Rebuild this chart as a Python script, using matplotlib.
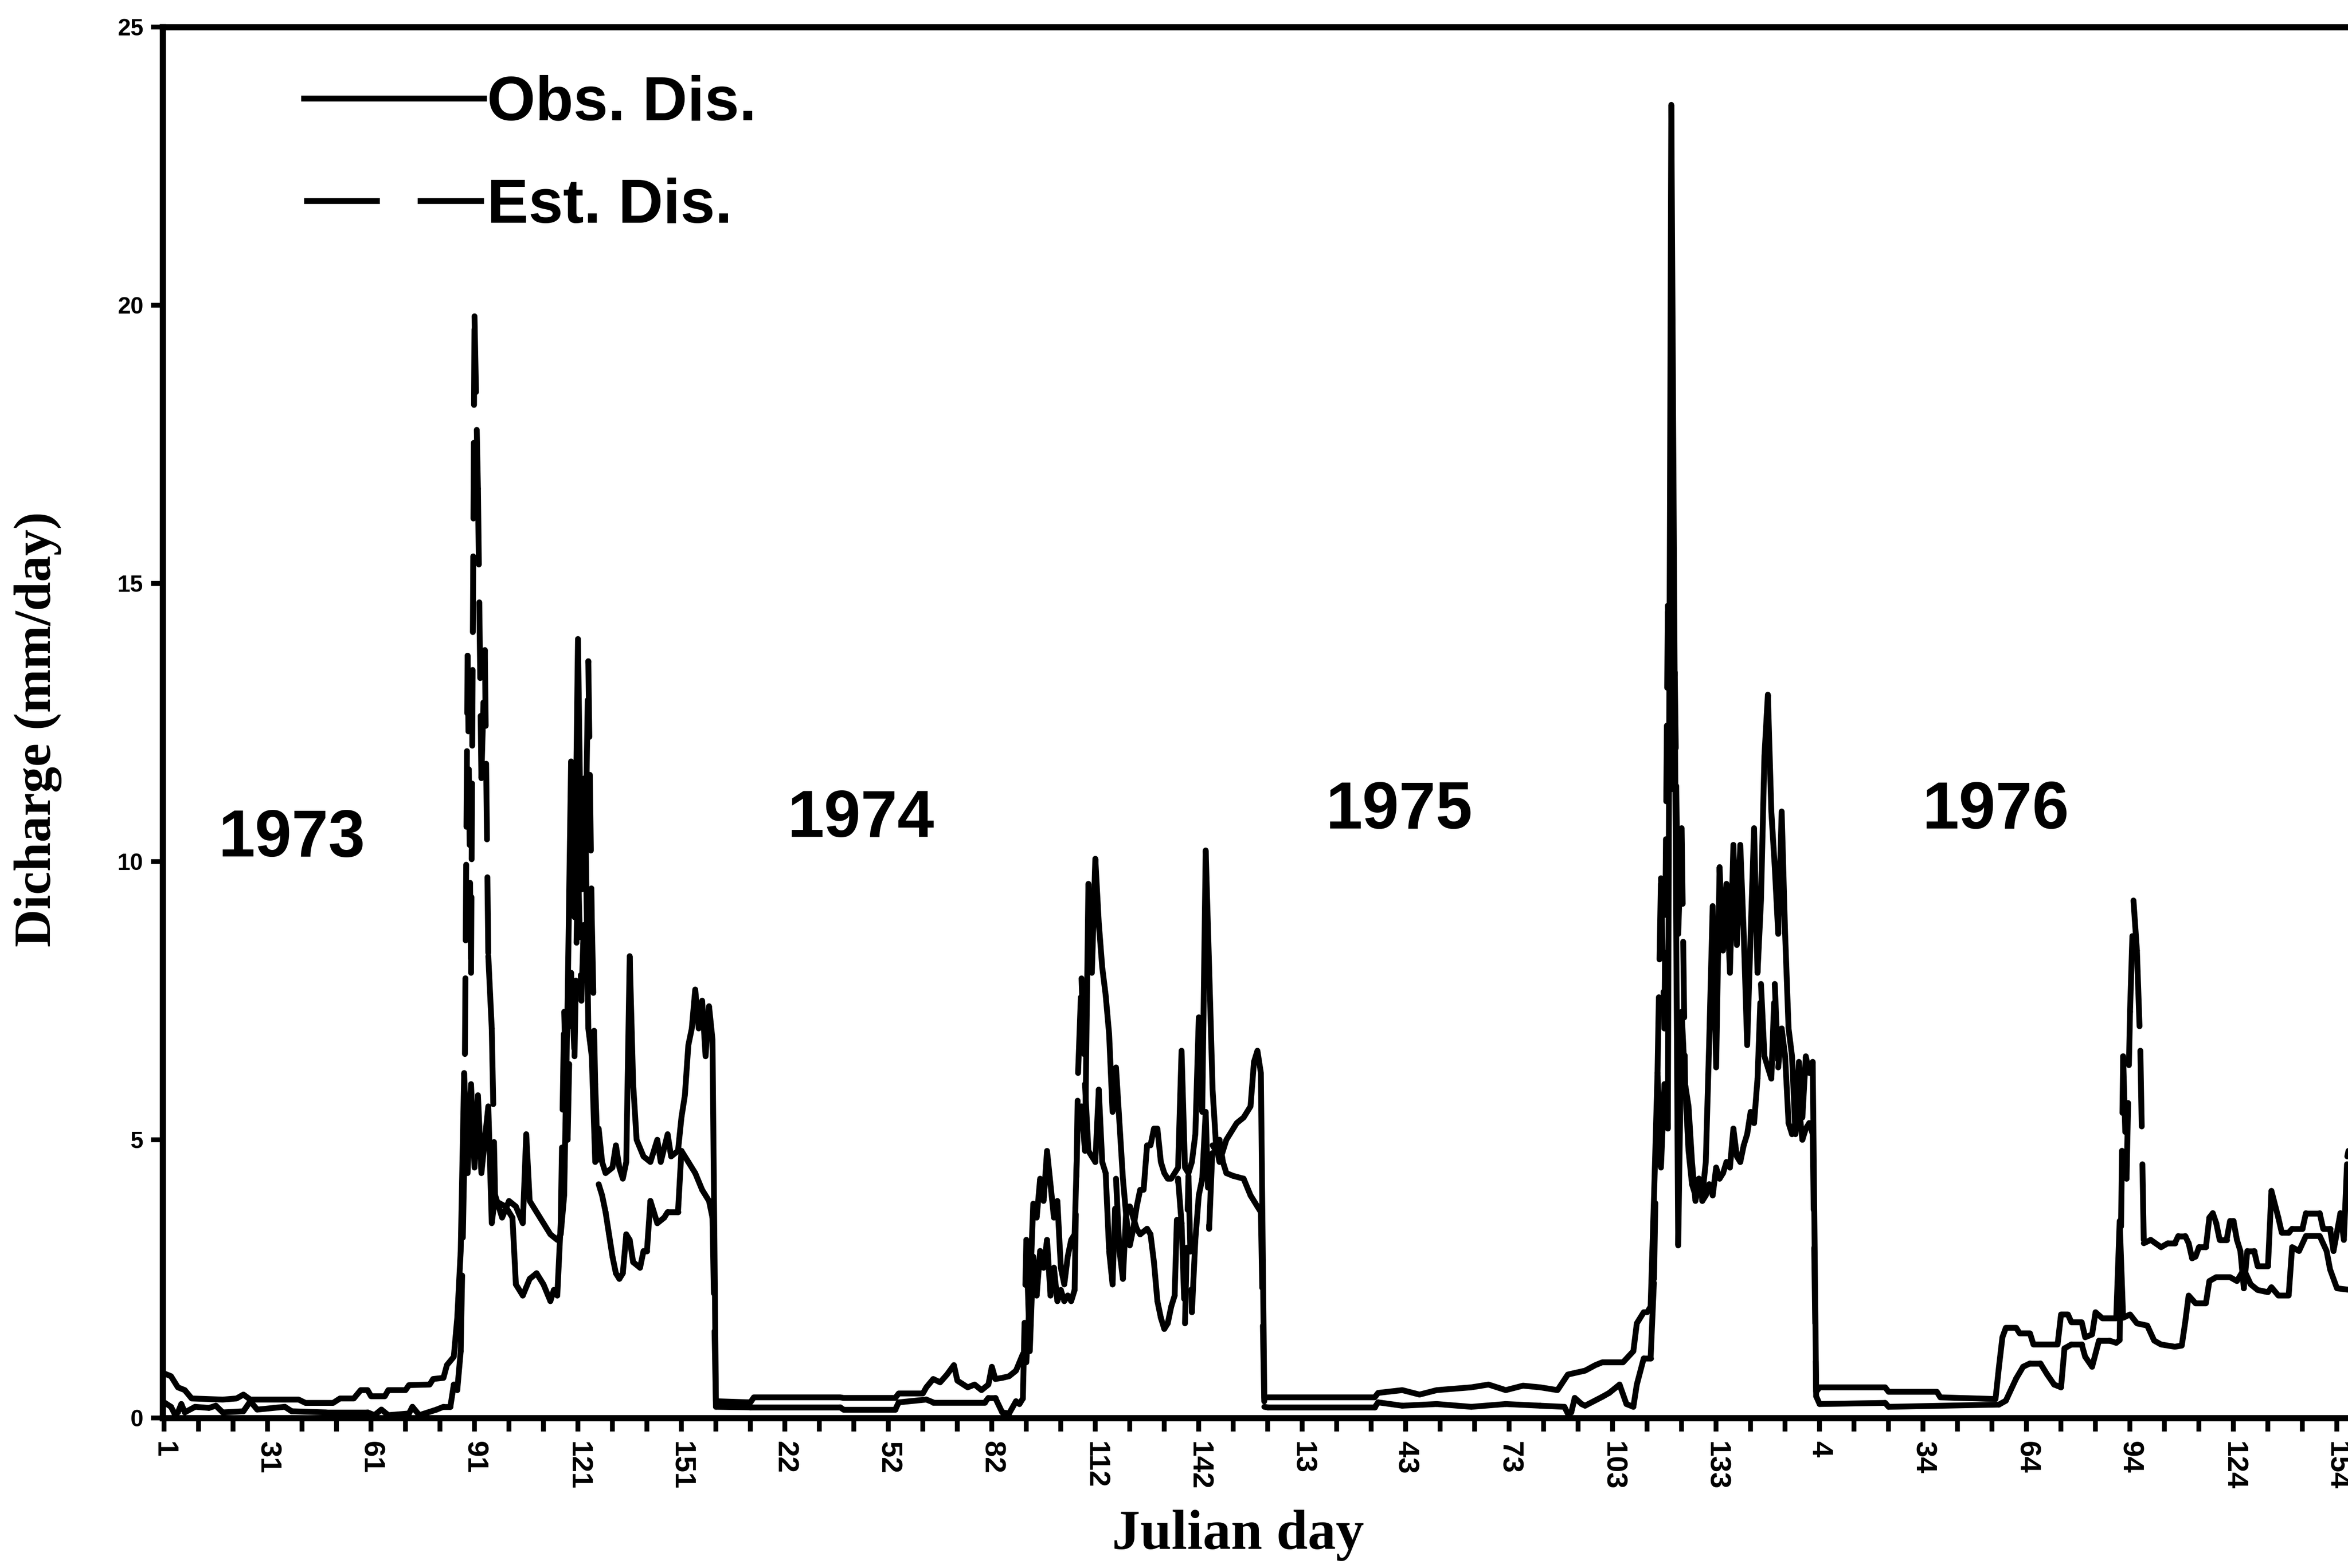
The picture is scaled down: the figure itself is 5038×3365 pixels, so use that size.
import matplotlib
matplotlib.use("Agg")
import matplotlib.pyplot as plt
from matplotlib.collections import LineCollection
from matplotlib.lines import Line2D
from matplotlib.ticker import FixedLocator

# day index runs on through the four seasons; q in mm/day
OBS_1973 = [(1, 0.8), (3, 0.75), (5, 0.55), (7, 0.5), (9, 0.35), (18, 0.33), (22, 0.35), (24, 0.42),
            (26, 0.33), (40, 0.33), (42, 0.27), (50, 0.27), (52, 0.35), (56, 0.35), (58, 0.5), (60, 0.5),
            (61, 0.39), (65, 0.39), (66, 0.5), (71, 0.5), (72, 0.59), (78, 0.6), (79, 0.7), (82, 0.72),
            (83, 0.95), (85, 1.1), (86, 1.8), (87, 3.0), (88, 6.2), (89, 4.4), (90, 6.0), (91, 4.5),
            (92, 5.8), (93, 4.4), (94, 5.0), (95, 5.6), (96, 3.5), (97, 4.0), (99, 3.6), (101, 3.9),
            (103, 3.8), (105, 3.5), (106, 5.1), (107, 3.9), (109, 3.7), (111, 3.5), (113, 3.3), (115, 3.2),
            (116, 3.3), (117, 4.0), (118, 7.5), (119, 11.8), (120, 9.0), (121, 14.0), (122, 9.5), (123, 11.5),
            (124, 7.0), (125, 6.5), (126, 4.6), (127, 5.2), (128, 4.6), (129, 4.4), (131, 4.5), (132, 4.9),
            (133, 4.5), (134, 4.3), (135, 4.6), (136, 8.3), (137, 6.0), (138, 5.0), (140, 4.7), (142, 4.6),
            (144, 5.0), (145, 4.6), (147, 5.1), (148, 4.7), (150, 4.8), (151, 5.4), (152, 5.8), (153, 6.7),
            (154, 7.0), (155, 7.7), (156, 7.0), (157, 7.5), (158, 6.5), (159, 7.4), (160, 6.8)]
OBS_1974 = [(161, 0.3), (171, 0.28), (172, 0.37), (197, 0.37), (198, 0.36), (213, 0.36), (214, 0.44),
            (221, 0.44), (222, 0.55), (224, 0.7), (226, 0.64), (228, 0.78), (230, 0.95), (231, 0.67),
            (234, 0.55), (236, 0.6), (238, 0.5), (240, 0.6), (241, 0.92), (242, 0.7), (244, 0.72), (246, 0.75),
            (248, 0.85), (249, 1.0), (250, 1.15), (251, 1.0), (252, 2.2), (253, 3.85), (254, 3.6), (255, 4.3),
            (256, 3.9), (257, 4.8), (258, 4.2), (259, 3.6), (260, 3.9), (261, 2.7), (262, 2.4), (263, 2.9),
            (264, 3.2), (265, 3.3), (266, 5.5), (267, 5.6), (268, 4.8), (269, 9.6), (270, 8.0), (271, 10.05),
            (272, 8.9), (273, 8.1), (274, 7.6), (275, 6.9), (276, 5.5), (277, 6.3), (278, 5.3), (279, 4.3),
            (280, 3.6), (281, 3.1), (282, 3.4), (283, 3.8), (284, 4.1), (285, 4.1), (286, 4.9), (287, 4.9),
            (288, 5.2), (289, 5.2), (290, 4.6), (291, 4.4), (292, 4.3), (293, 4.3), (294, 4.4), (295, 4.5),
            (296, 6.6), (297, 4.5), (298, 4.4), (299, 4.6), (300, 5.1), (301, 7.2), (302, 5.5), (303, 10.2),
            (304, 8.1), (305, 5.9), (306, 4.9), (307, 4.6), (308, 4.8), (309, 5.0), (310, 5.1), (312, 5.3),
            (314, 5.4), (316, 5.6), (317, 6.4), (318, 6.6), (319, 6.2)]
OBS_1975 = [(320, 0.36), (321, 0.37), (352, 0.37), (353, 0.45), (360, 0.5), (365, 0.42), (370, 0.5),
            (380, 0.55), (385, 0.6), (390, 0.5), (395, 0.58), (400, 0.55), (405, 0.5), (408, 0.78),
            (413, 0.85), (416, 0.95), (418, 1.0), (424, 1.0), (427, 1.2), (428, 1.7), (430, 1.9), (431, 1.9),
            (432, 2.0), (433, 4.0), (434, 6.2), (435, 4.5), (436, 6.0), (437, 5.2), (438, 23.6), (439, 13.0),
            (440, 3.1), (441, 7.3), (442, 6.0), (443, 5.6), (444, 4.6), (445, 3.9), (446, 4.3), (447, 4.0),
            (448, 4.6), (449, 6.8), (450, 9.2), (451, 6.3), (452, 9.9), (453, 8.4), (454, 9.6), (455, 8.0),
            (456, 10.3), (457, 8.5), (458, 10.3), (459, 8.7), (460, 6.7), (461, 8.7), (462, 10.6), (463, 8.0),
            (464, 9.3), (465, 11.9), (466, 13.0), (467, 10.9), (468, 9.9), (469, 8.7), (470, 10.9), (471, 8.7),
            (472, 7.0), (473, 6.5), (474, 5.1), (475, 6.4), (476, 5.4), (477, 6.5), (478, 6.2), (479, 6.4)]
OBS_1976 = [(480, 0.47), (481, 0.55), (500, 0.55), (501, 0.47), (515, 0.47), (516, 0.37), (532, 0.34),
            (533, 0.92), (534, 1.45), (535, 1.62), (538, 1.62), (539, 1.52), (542, 1.52), (543, 1.32),
            (550, 1.32), (551, 1.86), (553, 1.86), (554, 1.72), (557, 1.72), (558, 1.45), (560, 1.5),
            (561, 1.9), (563, 1.79), (567, 1.79), (568, 3.54), (569, 1.8), (571, 1.86), (573, 1.7), (576, 1.66),
            (578, 1.39), (580, 1.32), (584, 1.28), (586, 1.3), (587, 1.72), (588, 2.2), (590, 2.06), (593, 2.06),
            (594, 2.46), (596, 2.53), (600, 2.53), (602, 2.46), (604, 2.67), (606, 2.4), (608, 2.3), (611, 2.26),
            (612, 2.35), (614, 2.2), (617, 2.2), (618, 3.07), (620, 3.0), (622, 3.27), (626, 3.27), (628, 3.0),
            (629, 2.67), (631, 2.33), (635, 2.3)]

EST_1973 = [(1, 0.28), (3, 0.2), (4, 0.08), (5, 0.1), (6, 0.25), (7, 0.1), (10, 0.2), (14, 0.18), (16, 0.22),
            (18, 0.1), (24, 0.12), (26, 0.3), (28, 0.15), (36, 0.2), (38, 0.12), (48, 0.1), (60, 0.1), (62, 0.05),
            (64, 0.15), (66, 0.05), (72, 0.08), (73, 0.2), (75, 0.05), (80, 0.15), (82, 0.2), (84, 0.2), (85, 0.6),
            (86, 0.5), (87, 1.2), (88, 4.5), (89, 13.7), (90, 8.0), (91, 19.8), (92, 16.7), (93, 11.5),
            (94, 13.8), (95, 8.3), (96, 7.0), (97, 3.9), (100, 3.8), (102, 3.6), (103, 2.4), (105, 2.2),
            (107, 2.5), (109, 2.6), (111, 2.4), (113, 2.1), (114, 2.3), (115, 2.2), (116, 3.5), (117, 7.3),
            (118, 5.0), (119, 8.0), (120, 6.5), (121, 10.0), (122, 7.5), (123, 9.5), (124, 13.6), (125, 9.0),
            (126, 6.0), (127, 4.2), (128, 4.0), (129, 3.7), (130, 3.3), (131, 2.9), (132, 2.6), (133, 2.5),
            (134, 2.6), (135, 3.3), (136, 3.2), (137, 2.8), (139, 2.7), (140, 3.0), (141, 3.0), (142, 3.9),
            (143, 3.7), (144, 3.5), (146, 3.6), (147, 3.7), (150, 3.7), (151, 4.8), (153, 4.6), (155, 4.4),
            (157, 4.1), (159, 3.9), (160, 3.6)]
EST_1974 = [(161, 0.2), (171, 0.19), (197, 0.19), (198, 0.15), (213, 0.15), (214, 0.28), (222, 0.33),
            (224, 0.28), (239, 0.28), (240, 0.36), (242, 0.36), (244, 0.1), (246, 0.08), (248, 0.3), (249, 0.25),
            (250, 0.35), (251, 3.2), (252, 1.2), (253, 2.9), (254, 2.2), (255, 3.0), (256, 2.7), (257, 3.2),
            (258, 2.2), (259, 2.7), (260, 2.1), (261, 2.3), (262, 2.1), (263, 2.2), (264, 2.1), (265, 2.3),
            (266, 6.2), (267, 7.9), (268, 6.0), (269, 4.8), (270, 4.7), (271, 4.6), (272, 5.9), (273, 4.6),
            (274, 4.4), (275, 3.0), (276, 2.4), (277, 4.3), (278, 3.0), (279, 2.5), (280, 3.8), (281, 3.8),
            (282, 3.6), (283, 3.4), (284, 3.3), (286, 3.4), (287, 3.3), (288, 2.8), (289, 2.1), (290, 1.8),
            (291, 1.6), (292, 1.7), (293, 2.0), (294, 2.2), (295, 4.3), (296, 3.5), (297, 1.7), (298, 4.35),
            (299, 1.9), (300, 3.2), (301, 4.0), (302, 4.3), (303, 5.5), (304, 3.4), (305, 4.9), (306, 4.8),
            (307, 5.0), (308, 4.6), (309, 4.4), (311, 4.35), (314, 4.3), (316, 4.0), (318, 3.8), (319, 3.7)]
EST_1975 = [(320, 0.2), (321, 0.19), (352, 0.19), (353, 0.28), (360, 0.22), (370, 0.25), (380, 0.2),
            (390, 0.25), (400, 0.22), (407, 0.2), (408, 0.08), (409, 0.1), (410, 0.36), (412, 0.25), (413, 0.22),
            (418, 0.38), (420, 0.45), (423, 0.6), (425, 0.25), (427, 0.2), (428, 0.6), (430, 1.07), (432, 1.07),
            (433, 2.5), (434, 6.2), (435, 9.7), (436, 7.0), (437, 14.6), (438, 11.3), (439, 13.4), (440, 8.7),
            (441, 10.6), (442, 6.0), (443, 4.8), (444, 4.2), (445, 4.0), (446, 4.3), (447, 3.9), (448, 4.0),
            (449, 4.2), (450, 4.0), (451, 4.5), (452, 4.3), (453, 4.4), (454, 4.6), (455, 4.5), (456, 5.2),
            (457, 4.7), (458, 4.6), (459, 4.9), (460, 5.1), (461, 5.5), (462, 5.3), (463, 6.1), (464, 7.8),
            (465, 6.5), (466, 6.3), (467, 6.1), (468, 7.8), (469, 6.3), (470, 7.0), (471, 6.5), (472, 5.3),
            (473, 5.1), (474, 5.3), (475, 5.6), (476, 5.0), (477, 5.2), (478, 5.3), (479, 5.1)]
EST_1976 = [(480, 0.39), (481, 0.25), (500, 0.27), (501, 0.2), (533, 0.24), (535, 0.31), (538, 0.71),
            (540, 0.92), (542, 0.98), (545, 0.98), (547, 0.78), (549, 0.6), (551, 0.55), (552, 1.25), (554, 1.32),
            (557, 1.32), (558, 1.1), (560, 0.92), (562, 1.39), (565, 1.39), (567, 1.35), (568, 1.4), (569, 6.5),
            (570, 4.3), (571, 7.3), (572, 9.3), (573, 8.4), (574, 6.6), (575, 3.14), (577, 3.2), (580, 3.07),
            (582, 3.14), (584, 3.14), (585, 3.27), (587, 3.27), (588, 3.14), (589, 2.87), (590, 2.9), (591, 3.07),
            (593, 3.07), (594, 3.6), (595, 3.68), (596, 3.5), (597, 3.2), (599, 3.2), (600, 3.54), (601, 3.54),
            (602, 3.2), (603, 3.0), (604, 2.33), (605, 3.0), (607, 3.0), (608, 2.73), (611, 2.73), (612, 4.08),
            (614, 3.6), (615, 3.33), (617, 3.33), (618, 3.4), (621, 3.4), (622, 3.68), (626, 3.68), (627, 3.4),
            (629, 3.4), (630, 3.0), (632, 3.68), (633, 3.2), (634, 4.7), (635, 5.0)]

YEARS = ["1973", "1974", "1975", "1976"]
YEAR_XY = [(38, 10.4), (203, 10.75), (359, 10.9), (532, 10.9)]
XTICK_LABELS = ["1", "31", "61", "91", "121", "151", "22", "52", "82", "112", "142",
                "13", "43", "73", "103", "133", "4", "34", "64", "94", "124", "154"]


def unzip(*parts):
    pts = [p for part in parts for p in part]
    return [p[0] for p in pts], [p[1] for p in pts]


obs_x, obs_y = unzip(OBS_1973, OBS_1974, OBS_1975, OBS_1976)
est_x, est_y = unzip(EST_1973, EST_1974, EST_1975, EST_1976)

plt.rcParams["font.family"] = ["Liberation Sans", "DejaVu Sans"]
plt.rcParams["font.weight"] = "bold"

fig = plt.figure(figsize=(5038 / 300, 3365 / 300), dpi=300)
ax = fig.add_axes([0.0693, 0.0957, 0.9307, 0.8871])

LW = 3.0
DASH = (0, (13, 6.5))

ax.plot(obs_x, obs_y, color="black", lw=LW)

# old spreadsheet style: the dash pattern restarts on every daily segment,
# so only the tall jumps show the gaps; the multi-day flat runs stay solid
segs, styles = [], []
for x0, y0, x1, y1 in zip(est_x[:-1], est_y[:-1], est_x[1:], est_y[1:]):
    segs.append([(x0, y0), (x1, y1)])
    styles.append(DASH if x1 - x0 == 1 else "solid")
ax.add_collection(LineCollection(segs, colors="black", linewidths=LW, linestyles=styles,
                                 capstyle="round"))

ax.set_xlim(0.6, 634.2)
ax.set_ylim(0, 25)

ax.xaxis.set_major_locator(FixedLocator(range(1, 635, 30)))
ax.xaxis.set_minor_locator(FixedLocator(range(1, 635, 10)))
ax.set_xticklabels(XTICK_LABELS, rotation=270, fontsize=15)
ax.set_yticks([0, 5, 10, 15, 20, 25])
ax.tick_params(axis="y", labelsize=12, length=6, width=2.5, pad=4)
ax.tick_params(axis="x", which="both", length=7, width=2.5, pad=5)

for side in ["left", "bottom", "top"]:
    ax.spines[side].set_linewidth(3.2)
ax.spines["right"].set_visible(False)

for name, (xx, yy) in zip(YEARS, YEAR_XY):
    ax.text(xx, yy, name, ha="center", va="center", fontsize=34)

handles = [Line2D([], [], color="black", lw=LW),
           Line2D([], [], color="black", lw=LW, ls=DASH)]
ax.legend(handles, ["Obs. Dis.", "Est. Dis."], loc="upper left", bbox_to_anchor=(0.0645, 0.9655),
          frameon=False, borderpad=0, borderaxespad=0, handlelength=2.9, handletextpad=0.05,
          labelspacing=0.71, prop={"family": "Liberation Sans", "weight": "bold", "size": 32})

ax.set_xlabel("Julian day", fontfamily="Liberation Serif", fontsize=29, fontweight="bold")
ax.xaxis.set_label_coords(0.492, -0.066)
ax.set_ylabel("Dicharge (mm/day)", fontfamily="Liberation Serif", fontsize=27, fontweight="bold")
ax.yaxis.set_label_coords(-0.046, 0.495)

fig.savefig("out.png", dpi=300)
